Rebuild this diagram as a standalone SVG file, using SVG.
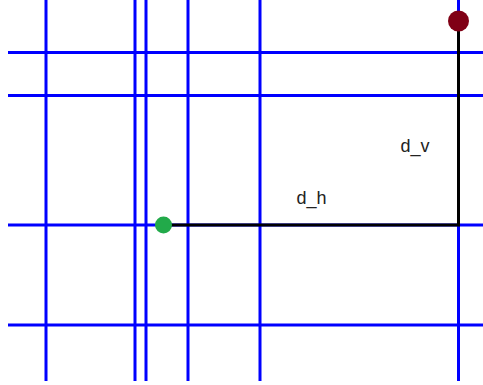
<svg xmlns="http://www.w3.org/2000/svg" width="483" height="385" viewBox="0 0 483 385">
<style>
.g{stroke:#0000ff;stroke-width:3;fill:none}
.p{stroke:#000;stroke-width:3;fill:none}
.t{font-family:"Liberation Sans",Arial,sans-serif;font-size:18px;fill:#222}
</style>
<rect width="483" height="385" fill="#fff"/>
<g id="grid">
<line class="g" x1="46" y1="0" x2="46" y2="381"/>
<line class="g" x1="135" y1="0" x2="135" y2="381"/>
<line class="g" x1="146" y1="0" x2="146" y2="381"/>
<line class="g" x1="188" y1="0" x2="188" y2="381"/>
<line class="g" x1="260" y1="0" x2="260" y2="381"/>
<line class="g" x1="458.5" y1="0" x2="458.5" y2="381"/>
<line class="g" x1="8" y1="52.5" x2="483" y2="52.5"/>
<line class="g" x1="8" y1="95.5" x2="483" y2="95.5"/>
<line class="g" x1="8" y1="225" x2="483" y2="225"/>
<line class="g" x1="8" y1="325" x2="483" y2="325"/>
</g>
<g id="connectors">
<polyline class="p" points="163,225 458.5,225 458.5,21"/>
</g>
<g id="start"><circle cx="163.5" cy="225" r="8.5" fill="#22aa4a"/></g>
<g id="end"><circle cx="458.5" cy="21" r="10.5" fill="#800015"/></g>
<text class="t" x="296.5" y="204">d_h</text>
<text class="t" x="400.5" y="152">d_v</text>
</svg>
